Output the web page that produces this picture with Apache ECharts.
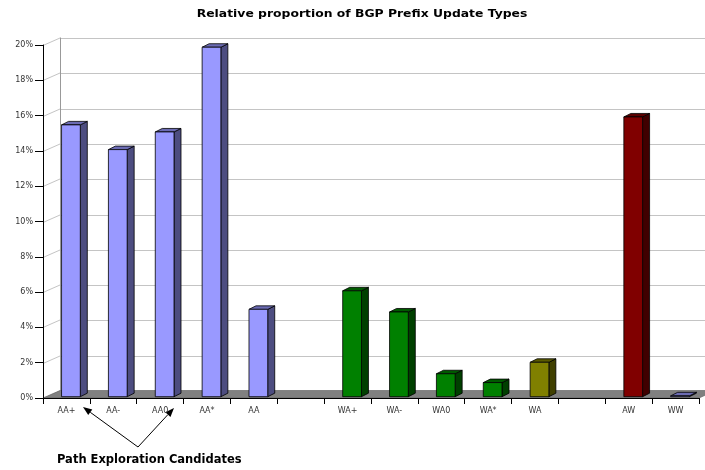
<!DOCTYPE html>
<html>
<head>
<meta charset="utf-8">
<script src="https://cdn.jsdelivr.net/npm/echarts@6/dist/echarts.min.js"></script>
<style>
  html, body { margin: 0; padding: 0; background: #fff; }
  #chart { width: 705px; height: 470px; }
</style>
</head>
<body>
<div id="chart"></div>
<script>
// Update types on the category axis (blank slots separate the groups)
const categories = ['AA+', 'AA-', 'AA0', 'AA*', 'AA', '', 'WA+', 'WA-', 'WA0', 'WA*', 'WA', '', 'AW', 'WW'];
// Share of all prefix updates, in percent
const shares = [15.4, 14.0, 15.0, 19.8, 4.95, null, 6.0, 4.8, 1.3, 0.8, 1.95, null, 15.85, 0.05];
// Value axis ticks, in percent
const percentTicks = [0, 2, 4, 6, 8, 10, 12, 14, 16, 18, 20];

// Oblique projection offsets for the pseudo-3D look
const WALL = [17, -7.5];      // back wall behind the front axis plane
const BAR_DEPTH = [7, -3.5];  // depth of each column
const BAR_SHIFT = [4.5, -1.3];// columns sit slightly behind the front plane

function barColor(name) {
  if (name === 'AW') return '#800000';
  if (name === 'WA') return '#808000';
  if (name.indexOf('WA') === 0) return '#008000';
  return '#9999ff';
}
function shade(hex, f) {
  const n = parseInt(hex.slice(1), 16);
  const r = Math.round(((n >> 16) & 255) * f);
  const g = Math.round(((n >> 8) & 255) * f);
  const b = Math.round((n & 255) * f);
  return 'rgb(' + r + ',' + g + ',' + b + ')';
}
const crisp = v => Math.round(v) + 0.5;

// Floor, side wall and back wall with its grid lines
function renderFrame(params, api) {
  const cs = params.coordSys;
  const x0 = cs.x, x1 = cs.x + cs.width;
  const y0 = api.coord([0, 0])[1];
  const yTop = api.coord([0, percentTicks[percentTicks.length - 1]])[1];
  const children = [];
  percentTicks.forEach(function (t) {
    const y = crisp(api.coord([0, t])[1]);
    children.push({
      type: 'line',
      shape: { x1: x0, y1: y, x2: x0 + WALL[0], y2: y + WALL[1] },
      style: { stroke: '#c4c4c4', lineWidth: 1 }
    });
    if (t > 0) {
      children.push({
        type: 'line',
        shape: { x1: x0 + WALL[0], y1: crisp(y + WALL[1]), x2: x1 + WALL[0], y2: crisp(y + WALL[1]) },
        style: { stroke: '#c4c4c4', lineWidth: 1 }
      });
    }
  });
  children.push({
    type: 'line',
    shape: { x1: crisp(x0 + WALL[0]), y1: y0 + WALL[1], x2: crisp(x0 + WALL[0]), y2: yTop + WALL[1] },
    style: { stroke: '#999', lineWidth: 1 }
  });
  children.push({
    type: 'polygon',
    shape: { points: [[x0, y0], [x1, y0], [x1 + WALL[0], y0 + WALL[1]], [x0 + WALL[0], y0 + WALL[1]]] },
    style: { fill: '#808080', stroke: '#5a5a5a', lineWidth: 0.6 }
  });
  return { type: 'group', children: children };
}

// One shaded column: front face, right side and top
function renderBar(params, api) {
  const i = api.value(0), v = api.value(1);
  if (v == null || isNaN(v)) return;
  const base = api.coord([i, 0]);
  const top = api.coord([i, v]);
  const w = api.size([1, 0])[0] * 0.4;
  const xl = base[0] - w / 2 + BAR_SHIFT[0], xr = xl + w;
  const yb = base[1] + BAR_SHIFT[1], yt = top[1] + BAR_SHIFT[1];
  const dx = BAR_DEPTH[0], dy = BAR_DEPTH[1];
  const c = barColor(categories[i]);
  const edge = { stroke: '#000', lineWidth: 0.8, lineJoin: 'miter' };
  return {
    type: 'group',
    children: [
      { type: 'polygon', shape: { points: [[xr, yb], [xr + dx, yb + dy], [xr + dx, yt + dy], [xr, yt]] },
        style: Object.assign({ fill: shade(c, 0.5) }, edge) },
      { type: 'polygon', shape: { points: [[xl, yt], [xl + dx, yt + dy], [xr + dx, yt + dy], [xr, yt]] },
        style: Object.assign({ fill: shade(c, 0.7) }, edge) },
      { type: 'rect', shape: { x: xl, y: yt, width: w, height: yb - yt },
        style: Object.assign({ fill: c }, edge) }
    ]
  };
}

// Arrow from the caption up to a category label
function arrow(from, to) {
  const ang = Math.atan2(to[1] - from[1], to[0] - from[0]);
  const len = 9, half = 3.5;
  const bx = to[0] - len * Math.cos(ang), by = to[1] - len * Math.sin(ang);
  const px = -Math.sin(ang) * half, py = Math.cos(ang) * half;
  return [
    { type: 'line', shape: { x1: from[0], y1: from[1], x2: bx, y2: by },
      style: { stroke: '#000', lineWidth: 1 } },
    { type: 'polygon', shape: { points: [to, [bx + px, by + py], [bx - px, by - py]] },
      style: { fill: '#000' } }
  ];
}

const chart = echarts.init(document.getElementById('chart'), null, { renderer: 'canvas' });
const labelFont = { fontFamily: 'DejaVu Sans', fontSize: 8, color: '#333' };

chart.setOption({
  animation: false,
  backgroundColor: '#fff',
  grid: { left: 43, right: 6, top: 45, bottom: 72 },
  xAxis: {
    type: 'category',
    data: categories,
    boundaryGap: true,
    axisLine: { show: true, lineStyle: { color: '#000', width: 1 } },
    axisTick: { show: true, interval: 0, length: 6, lineStyle: { color: '#000' } },
    axisLabel: Object.assign({ interval: 0, margin: 9 }, labelFont),
    splitLine: { show: false },
    z: 10
  },
  yAxis: {
    type: 'value',
    min: percentTicks[0],
    max: percentTicks[percentTicks.length - 1],
    interval: 2,
    axisLine: { show: true, lineStyle: { color: '#000', width: 1 } },
    axisTick: { show: true, length: 8, lineStyle: { color: '#000' } },
    axisLabel: Object.assign({ margin: 10, formatter: v => v + '%' }, labelFont),
    splitLine: { show: false },
    z: 10
  },
  series: [
    {
      type: 'custom',
      name: 'frame',
      silent: true,
      clip: false,
      z: 1,
      renderItem: renderFrame,
      data: [[0, 0]]
    },
    {
      type: 'custom',
      name: 'share',
      clip: false,
      z: 5,
      renderItem: renderBar,
      encode: { x: 0, y: 1 },
      data: shares.map((v, i) => [i, v])
    }
  ],
  graphic: [
    // chart title, drawn with wide tracking
    { type: 'text', x: 362, y: 14, scaleX: 1.125,
      style: { text: 'Relative proportion of BGP Prefix Update Types', fill: '#000',
               font: 'bold 11px "DejaVu Sans", Verdana, sans-serif',
               align: 'center', verticalAlign: 'middle' } },
    { type: 'text', left: 57, top: 454,
      style: { text: 'Path Exploration Candidates', fill: '#000',
               font: 'bold 11.5px "DejaVu Sans", Verdana, sans-serif' } }
  ].concat(arrow([138, 447], [83, 407]), arrow([138, 447], [174, 408]))
});
</script>
</body>
</html>
